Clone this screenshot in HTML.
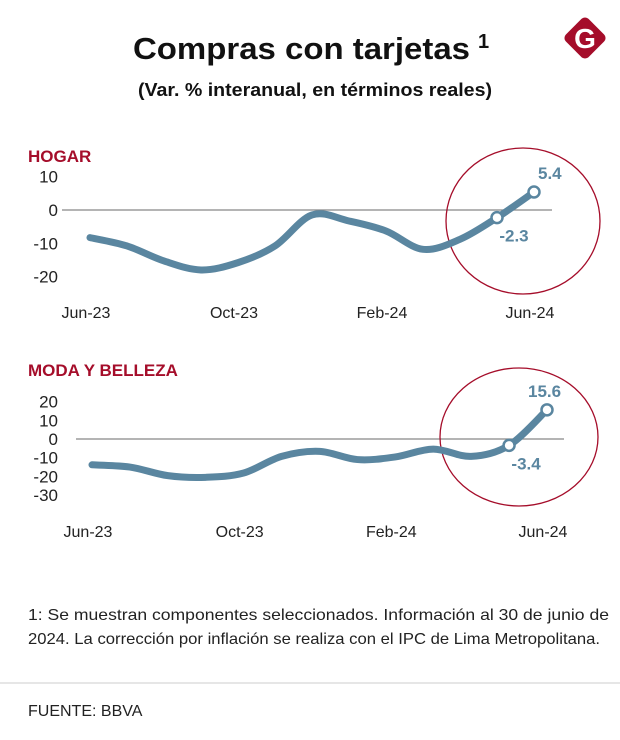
<!DOCTYPE html>
<html><head><meta charset="utf-8"><style>
body{margin:0;background:#fff;font-family:"Liberation Sans",sans-serif}
svg{display:block}
text{font-family:"Liberation Sans",sans-serif}
</style></head><body>
<svg id="s" width="620" height="740" viewBox="0 0 620 740">
<text x="133" y="59" font-size="31" font-weight="bold" fill="#111"><tspan textLength="337" lengthAdjust="spacingAndGlyphs">Compras con tarjetas</tspan><tspan font-size="20" dx="8" dy="-11">1</tspan></text>
<text x="315" y="96" text-anchor="middle" font-size="18" font-weight="bold" fill="#111" textLength="354" lengthAdjust="spacingAndGlyphs">(Var. % interanual, en términos reales)</text>
<g>
<rect x="569" y="22" width="32" height="32" rx="5" fill="#a50d2a" transform="rotate(45 585 38)"/>
<text x="585" y="48" text-anchor="middle" font-size="28" font-weight="bold" fill="#fff">G</text>
</g>
<g id="c1"></g><g id="c2"></g>
<text x="28" y="620" font-size="16" fill="#222" textLength="581" lengthAdjust="spacingAndGlyphs">1: Se muestran componentes seleccionados. Información al 30 de junio de</text>
<text x="28" y="644" font-size="16" fill="#222" textLength="572" lengthAdjust="spacingAndGlyphs">2024. La corrección por inflación se realiza con el IPC de Lima Metropolitana.</text>
<line x1="0" y1="683" x2="620" y2="683" stroke="#ccc" stroke-width="1"/>
<text x="28" y="716" font-size="16" fill="#222">FUENTE:  BBVA</text>
</svg>
<script>
const months=["Jun-23","Jul-23","Aug-23","Sep-23","Oct-23","Nov-23","Dec-23","Jan-24","Feb-24","Mar-24","Apr-24","May-24","Jun-24"];
const xTickLabels=["Jun-23","Oct-23","Feb-24","Jun-24"];
const hogarValues=[-8.3,-10.8,-15.3,-18,-15.8,-10.8,-1.5,-3.3,-6.3,-11.8,-8.8,-2.3,5.4];
const hogarTicks=[10,0,-10,-20];
const modaValues=[-13.8,-15,-19.6,-20.5,-18.2,-9.3,-6.6,-11,-9.6,-5.4,-9.3,-3.4,15.6];
const modaTicks=[20,10,0,-10,-20,-30];
const NS="http://www.w3.org/2000/svg";
function mk(p,t,a){const e=document.createElementNS(NS,t);for(const k in a)e.setAttribute(k,a[k]);p.appendChild(e);return e;}
function smooth(pts){let d="M"+pts[0][0]+","+pts[0][1];for(let i=0;i<pts.length-1;i++){const p0=pts[i-1]||pts[i],p1=pts[i],p2=pts[i+1],p3=pts[i+2]||p2;d+=" C"+(p1[0]+(p2[0]-p0[0])/6)+","+(p1[1]+(p2[1]-p0[1])/6)+" "+(p2[0]-(p3[0]-p1[0])/6)+","+(p2[1]-(p3[1]-p1[1])/6)+" "+p2[0]+","+p2[1];}return d;}
function draw(gid,cfg){
const g=document.getElementById(gid);
const x=i=>cfg.x0+i*(cfg.x1-cfg.x0)/(months.length-1);
const y=v=>cfg.zeroY-v*cfg.pxPer;
const t=mk(g,"text",{x:28,y:cfg.titleY,"font-size":17,"font-weight":"bold",fill:"#a50d2a"});t.textContent=cfg.title;


cfg.ticks.forEach(v=>{const e=mk(g,"text",{x:58,y:y(v)+6,"text-anchor":"end","font-size":17,fill:"#222"});e.textContent=v;

});
const zl=mk(g,"line",{x1:cfg.zx0,x2:cfg.zx1,y1:y(0),y2:y(0),stroke:"#888","stroke-width":1.2});


xTickLabels.forEach(l=>{const i=months.indexOf(l);const e=mk(g,"text",{x:x(i)-4,y:cfg.xLabY,"text-anchor":"middle","font-size":16,fill:"#222"});e.textContent=l;

});
const el=mk(g,"ellipse",{cx:cfg.ecx,cy:cfg.ecy,rx:cfg.erx,ry:cfg.ery,fill:"none",stroke:"#a50d2a","stroke-width":1.3});


const pts=cfg.values.map((v,i)=>[x(i),y(v)]);
const p=mk(g,"path",{d:smooth(pts),fill:"none",stroke:"#5a86a0","stroke-width":7,"stroke-linecap":"round","stroke-linejoin":"round"});


[11,12].forEach(i=>{const c=mk(g,"circle",{cx:x(i),cy:y(cfg.values[i]),r:5.5,fill:"#fff",stroke:"#5a86a0","stroke-width":2.5});


const lb=mk(g,"text",{x:x(i)+(i==11?17:cfg.lastDx),y:y(cfg.values[i])+(i==11?24:-13),"text-anchor":i==11?"middle":"start","font-size":17,"font-weight":"bold",fill:"#5a86a0"});
lb.textContent=cfg.values[i];

});
}
draw("c1",{title:"HOGAR",titleY:162,values:hogarValues,ticks:hogarTicks,zeroY:210,pxPer:3.33,x0:90,x1:534,zx0:62,zx1:552,xLabY:318,ecx:523,ecy:221,erx:77,ery:73,lastDx:4});
draw("c2",{title:"MODA Y BELLEZA",titleY:376,values:modaValues,ticks:modaTicks,zeroY:439,pxPer:1.87,x0:92,x1:547,zx0:76,zx1:564,xLabY:537,ecx:519,ecy:437,erx:79,ery:69,lastDx:-19});
</script>
</body></html>
